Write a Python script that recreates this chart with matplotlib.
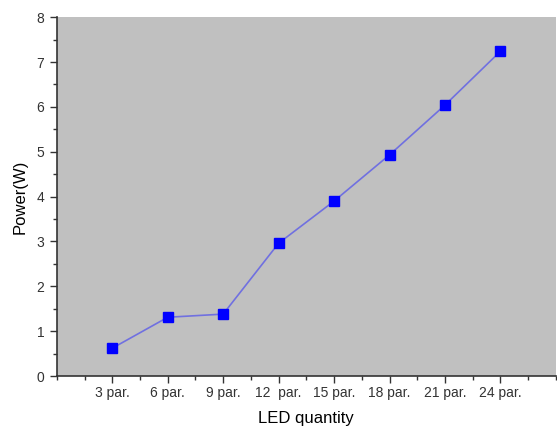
import matplotlib
matplotlib.use("Agg")
import matplotlib.pyplot as plt
from matplotlib.ticker import MultipleLocator

plt.rcParams['font.family'] = ['Liberation Sans', 'DejaVu Sans']

labels = ['3 par.', '6 par.', '9 par.', '12  par.', '15 par.', '18 par.', '21 par.', '24 par.']
power = [0.62, 1.31, 1.38, 2.96, 3.90, 4.93, 6.04, 7.24]
xs = list(range(1, len(labels) + 1))

fig = plt.figure(figsize=(5.57, 4.29), dpi=100)
ax = fig.add_axes([0.102, 0.1235, 0.896, 0.8365])
ax.set_facecolor('#c0c0c0')

ax.plot(xs, power, color='#7070e0', lw=1.2, marker='s', markersize=6.5,
        markerfacecolor='#0000ff', markeredgecolor='#0000ff')

ax.set_xlim(0, 9)
ax.set_ylim(0, 8)
ax.set_xticks(xs)
ax.set_xticklabels(labels)
ax.xaxis.set_minor_locator(MultipleLocator(0.5))
ax.yaxis.set_major_locator(MultipleLocator(1))
ax.yaxis.set_minor_locator(MultipleLocator(0.5))

for s in ['top', 'right']:
    ax.spines[s].set_visible(False)
for s in ['left', 'bottom']:
    ax.spines[s].set_linewidth(1.2)
    ax.spines[s].set_color('#333333')

ax.tick_params(which='major', direction='out', length=5, width=1, colors='#333333', labelsize=10)
ax.tick_params(which='minor', direction='out', length=3, width=1, colors='#333333')
ax.tick_params(axis='x', pad=2)
ax.tick_params(axis='y', pad=4)

ax.set_xlabel('LED quantity', fontsize=12, labelpad=8)
ax.set_ylabel('Power(W)', fontsize=12, labelpad=6)

fig.savefig('out.png', dpi=100)
